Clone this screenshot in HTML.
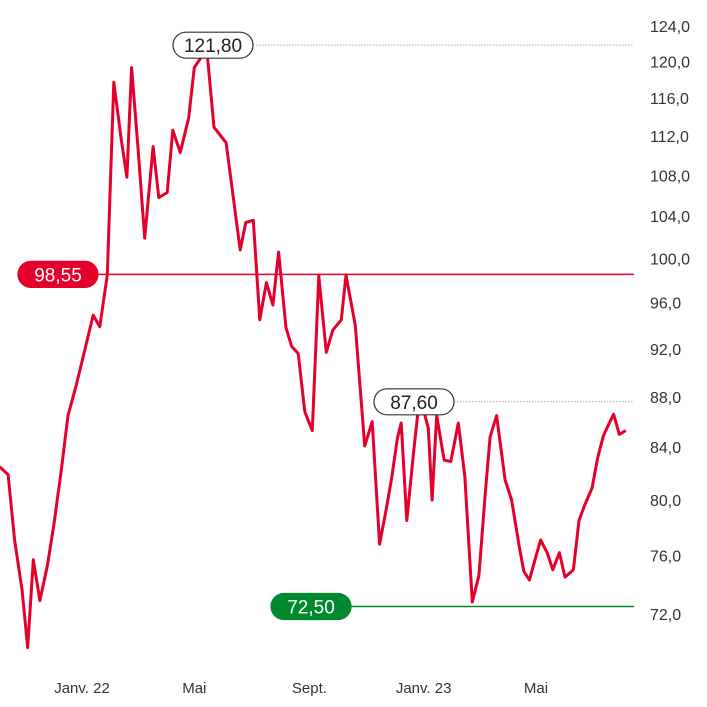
<!DOCTYPE html>
<html><head><meta charset="utf-8"><style>
html,body{margin:0;padding:0;background:#fff;}
svg{display:block;font-family:"Liberation Sans",sans-serif;}
</style></head><body>
<svg id="chart" width="707" height="707" viewBox="0 0 707 707">
<g id="grid"></g>
<g id="yaxis"></g>
<g id="xaxis"></g>
<path id="line" fill="none" stroke="#e4002b" stroke-width="3" stroke-linejoin="round"></path>
<g id="labels"></g>
</svg>
<script>
const days=[-88,-79,-72,-64,-58,-52,-45,-37,-30,-22,-15,-6,3,12,19,27,34,42,48,53,60,67,76,82,91,97,105,114,120,129,134,141,154,169,175,183,190,197,204,210,218,224,231,238,246,253,261,268,277,282,292,302,310,318,325,331,337,341,347,354,359,365,370,374,379,387,394,402,409,417,424,431,436,443,452,459,467,472,478,484,490,497,503,510,516,525,531,537,545,551,557,564,568,574,581];
const values=[82.5,81.9,77.1,73.6,69.8,75.7,72.9,75.3,78.2,82.3,86.5,89.0,91.9,94.9,93.9,98.5,117.7,111.6,107.8,119.3,110.5,101.9,110.9,105.8,106.3,112.6,110.3,113.9,119.3,120.7,120.6,112.9,111.3,100.8,103.4,103.6,94.5,97.8,95.8,100.6,93.8,92.2,91.6,86.8,85.3,98.4,91.7,93.6,94.5,98.5,94.0,84.1,86.0,76.8,79.3,81.7,84.7,85.9,78.5,83.4,86.8,86.9,85.5,80.0,86.5,83.0,82.9,85.9,81.8,72.8,74.6,80.6,84.8,86.5,81.5,80.0,76.7,74.9,74.3,75.7,77.1,76.2,75.0,76.2,74.5,75.0,78.5,79.6,80.9,83.2,84.9,86.0,86.6,85.0,85.3];
const yTicks=[124,120,116,112,108,104,100,96,92,88,84,80,76,72];
const xTickLabels=["Janv. 22","Mai","Sept.","Janv. 23","Mai"];
const xTickDays=[0,120,243,365,485];
const refValues=[121.8,98.55,87.6,72.5];
const refLabels=["121,80","98,55","87,60","72,50"];
const ns="http://www.w3.org/2000/svg";
function xs(d){return 82+d*0.936;}
function ys(v){return 614-1082*Math.log(v/72);}
function mk(tag,attrs,parent){const e=document.createElementNS(ns,tag);for(const k in attrs)e.setAttribute(k,attrs[k]);parent.appendChild(e);return e;}
const yaxis=document.getElementById('yaxis');
yTicks.forEach(t=>{
 const e=mk('text',{x:650,y:ys(t)+6,'font-size':16,fill:'#333'},yaxis);
 
 
 e.textContent=t.toFixed(1).replace('.',',');
});
const xaxis=document.getElementById('xaxis');
xTickLabels.forEach((l,i)=>{
 const e=mk('text',{x:xs(xTickDays[i]),y:693,'font-size':15,fill:'#333','text-anchor':'middle'},xaxis);
 
 
 e.textContent=l;
});
document.getElementById('line').setAttribute('d',values.map((v,i)=>(i?'L':'M')+xs(days[i]).toFixed(1)+','+ys(v).toFixed(1)).join(''));
const grid=document.getElementById('grid'),labels=document.getElementById('labels');
const cfg=[{x:173,fill:'#fff',stroke:'#333',tc:'#222',lc:'#aaa',dash:'1.5,1.5',sw:1},
 {x:18,fill:'#e4002b',stroke:'#e4002b',tc:'#fff',lc:'#e4002b',dash:'',sw:1.5},
 {x:374,fill:'#fff',stroke:'#333',tc:'#222',lc:'#aaa',dash:'1.5,1.5',sw:1},
 {x:271,fill:'#00892f',stroke:'#00892f',tc:'#fff',lc:'#00892f',dash:'',sw:1.5}];
const names=['max-label','current-label','recent-high-label','min-label'];
refValues.forEach((v,i)=>{
 const c=cfg[i],y=ys(v);
 const ln=mk('line',{x1:c.x+80,x2:634,y1:y,y2:y,stroke:c.lc,'stroke-width':c.sw,'stroke-dasharray':c.dash},grid);
 
 
 const g=mk('g',{},labels);
 
 
 mk('rect',{x:c.x,y:y-13,width:80,height:26,rx:13,fill:c.fill,stroke:c.stroke,'stroke-width':1.2},g);
 const t=mk('text',{x:c.x+40,y:y+7,'font-size':19,fill:c.tc,'text-anchor':'middle'},g);
 t.textContent=refLabels[i];
});
</script>
</body></html>
